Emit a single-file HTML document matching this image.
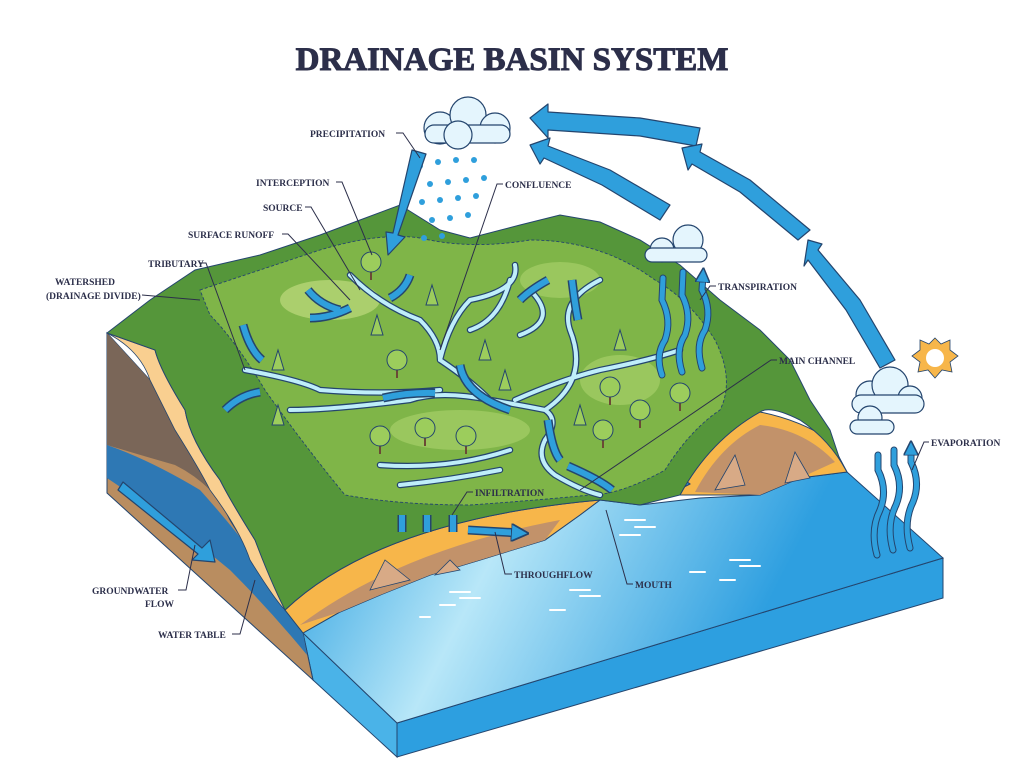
<!DOCTYPE html>
<html><head><meta charset="utf-8"><style>
html,body{margin:0;padding:0;background:#fff}
svg{display:block}
.l{font-family:"Liberation Serif",serif;font-weight:bold;font-size:9.5px;fill:#2c2f4a}
.ln{stroke:#2c2f4a;stroke-width:1;fill:none}
.ar{fill:#2f9fdc;stroke:#24456e;stroke-width:1.2;stroke-linejoin:round}
.rv{fill:none;stroke:#24456e;stroke-linecap:round;stroke-linejoin:round}
.rv2{fill:none;stroke:#bfeefa;stroke-linecap:round;stroke-linejoin:round}
</style></head><body>
<svg width="1024" height="779" viewBox="0 0 1024 779" xmlns="http://www.w3.org/2000/svg">
<defs>
<linearGradient id="wg" x1="0" y1="0" x2="1" y2="0.2"><stop offset="0" stop-color="#2a9fe0"/><stop offset="0.35" stop-color="#b8e7f8"/><stop offset="0.8" stop-color="#2e9fe0"/></linearGradient>
<marker id="ah" viewBox="0 0 10 10" refX="5" refY="5" markerWidth="3" markerHeight="3" orient="auto"><path d="M0,0 L10,5 L0,10z" fill="#2f9fdc" stroke="#24456e"/></marker>
</defs>
<text x="512" y="70" text-anchor="middle" style="font-family:'Liberation Serif',serif;font-weight:bold;font-size:33px;fill:#2c2f4a;stroke:#2c2f4a;stroke-width:1">DRAINAGE BASIN SYSTEM</text>

<!-- water block -->
<polygon points="303,633 397,723 397,757 313,680" fill="#4ab3e8" stroke="#24456e"/>
<polygon points="397,723 943,558 943,598 397,757" fill="#2d9fe0" stroke="#24456e"/>
<path d="M303,633 L397,723 L943,558 L847,472 L800,478 L760,495 L700,498 L640,505 L600,500 L580,515 L545,540 L480,560 L430,575 L380,595 L340,612 Z" fill="url(#wg)" stroke="#24456e"/>

<!-- left cliff -->
<path d="M107,333 L107,493 L313,680 L303,633 L285,610 L255,560 L230,520 L205,470 L175,420 L150,380 Z" fill="#b98d60" stroke="#24456e"/>
<path d="M107,333 L107,445 Q140,455 175,465 Q195,475 210,490 L205,470 L175,420 L150,380 Z" fill="#7a6658"/>
<path d="M107,445 Q150,460 200,490 Q245,540 275,585 Q292,610 303,633 L307,655 Q270,610 230,570 Q170,520 107,478 Z" fill="#2e78b4"/>
<path d="M107,333 Q140,350 150,380 Q170,420 175,430 Q200,470 210,490 Q240,530 250,560 Q275,600 285,610 L300,612 Q270,580 255,540 Q230,500 220,480 Q190,440 185,410 Q160,370 155,350 Z" fill="#f9cf90" stroke="#24456e" stroke-width="0.8"/>
<polygon points="123,482 202,548 210,540 215,562 192,560 198,554 118,490" class="ar"/>

<!-- front bank -->
<path d="M285,610 Q380,520 600,500 L580,515 L545,540 L480,560 L430,575 L380,595 L340,612 L303,633 Z" fill="#f7b64a" stroke="#24456e"/>
<path d="M300,625 Q400,550 560,520 L545,540 L480,560 L430,575 L380,595 L340,612 Z" fill="#c2926a"/>
<path d="M370,590 L385,560 L410,580 Z M435,575 L450,560 L460,570 Z" fill="#d8aa86" stroke="#24456e" stroke-width="0.8"/>

<!-- right hill bank -->
<path d="M680,495 Q710,440 760,412 Q800,420 830,440 L847,472 L800,478 L760,495 Z" fill="#f7b64a" stroke="#24456e"/>
<path d="M695,492 Q720,445 760,425 Q805,430 835,462 L800,478 L760,495 Z" fill="#c2926a"/>
<path d="M715,490 L735,455 L745,485 Z M785,483 L795,452 L810,478 Z" fill="#d8aa86" stroke="#24456e" stroke-width="0.8"/>
<polygon points="708,442 684,480 690,484 674,492 676,476 681,478 703,438" class="ar"/>

<!-- green land -->
<path d="M107,333 L150,300 L195,270 L260,255 L320,235 L360,220 L400,205 L440,230 L470,238 L520,225 L560,215 L600,222 L640,240 L680,265 L720,300 L760,330 L790,360 L810,400 L830,430 L840,460 L847,472 Q830,440 800,420 Q770,405 760,412 Q710,440 680,495 L640,505 L600,500 Q380,520 285,610 Q270,580 255,540 Q230,500 220,480 Q190,440 185,410 Q160,370 155,350 Z" fill="#55963a" stroke="#24456e"/>
<path d="M200,290 Q260,270 320,250 Q380,232 420,238 Q470,250 530,240 Q600,240 655,280 Q690,300 715,340 Q735,380 720,410 Q690,430 665,470 Q620,495 590,495 Q540,500 470,505 Q400,505 345,495 Q300,440 265,390 Q235,340 210,315 Z" fill="#7fb548" stroke="#24456e" stroke-dasharray="3,2" stroke-width="0.9"/>
<ellipse cx="330" cy="300" rx="50" ry="20" fill="#b6d677" opacity="0.8"/>
<ellipse cx="620" cy="380" rx="40" ry="25" fill="#9ac75e"/>
<ellipse cx="460" cy="430" rx="70" ry="20" fill="#9ac75e"/>
<ellipse cx="560" cy="280" rx="40" ry="18" fill="#9ac75e"/>

<!-- rivers -->
<path d="M350,275 Q380,305 420,320 Q440,340 440,360 Q470,380 490,400 Q520,405 545,410 Q560,420 545,440 Q535,460 555,475 Q580,490 600,495 M440,360 Q450,320 470,300 Q520,290 515,265 M490,400 Q440,390 410,400 Q330,410 290,410 M245,370 Q300,380 320,390 Q380,395 440,390 M515,400 Q560,380 600,370 Q650,360 680,350 M545,410 Q590,380 570,330 Q560,300 600,280 M520,335 Q560,320 530,290 M470,330 Q500,320 510,280 M380,465 Q450,470 510,450 M400,485 Q450,480 500,470" class="rv" stroke-width="6.5"/>
<path d="M350,275 Q380,305 420,320 Q440,340 440,360 Q470,380 490,400 Q520,405 545,410 Q560,420 545,440 Q535,460 555,475 Q580,490 600,495 M440,360 Q450,320 470,300 Q520,290 515,265 M490,400 Q440,390 410,400 Q330,410 290,410 M245,370 Q300,380 320,390 Q380,395 440,390 M515,400 Q560,380 600,370 Q650,360 680,350 M545,410 Q590,380 570,330 Q560,300 600,280 M520,335 Q560,320 530,290 M470,330 Q500,320 510,280 M380,465 Q450,470 510,450 M400,485 Q450,480 500,470" class="rv2" stroke-width="4"/>

<!-- trees -->
<g stroke="#24456e" stroke-width="1">
<g fill="none" stroke="#6b4a35" stroke-width="2"><path d="M371,265 V280 M397,363 V378 M380,439 V454 M425,431 V446 M466,439 V454 M610,390 V405 M640,413 V428 M680,396 V411 M603,433 V448"/></g>
<g fill="#9ccd5c">
<circle cx="371" cy="262" r="10"/><circle cx="397" cy="360" r="10"/><circle cx="380" cy="436" r="10"/><circle cx="425" cy="428" r="10"/><circle cx="466" cy="436" r="10"/><circle cx="610" cy="387" r="10"/><circle cx="640" cy="410" r="10"/><circle cx="680" cy="393" r="10"/><circle cx="603" cy="430" r="10"/>
<polygon points="278,350 272,370 284,370"/><polygon points="377,315 371,335 383,335"/><polygon points="432,285 426,305 438,305"/><polygon points="485,340 479,360 491,360"/><polygon points="505,370 499,390 511,390"/><polygon points="278,405 272,425 284,425"/><polygon points="580,405 574,425 586,425"/><polygon points="620,330 614,350 626,350"/>
</g>
</g>

<!-- flow arrows on land -->
<g fill="none" stroke-linecap="butt">
<g stroke="#24456e" stroke-width="9"><path d="M243,325 Q250,350 262,360 M308,290 Q320,305 340,310 M310,318 Q330,318 350,308 M390,298 Q405,290 410,275 M225,410 Q240,395 260,392 M383,398 Q410,392 435,393 M460,365 Q465,395 510,410 M548,280 Q530,290 520,300 M572,280 Q575,305 578,320 M548,420 Q552,450 560,460 M568,466 Q600,480 612,490 M402,515 L402,532 M427,515 L427,532 M453,515 L453,532 M468,530 L520,533"/></g>
<g stroke="#2f9fdc" stroke-width="6" marker-end="url(#ah)"><path d="M243,325 Q250,350 262,360 M308,290 Q320,305 340,310 M310,318 Q330,318 350,308 M390,298 Q405,290 410,275 M225,410 Q240,395 260,392 M383,398 Q410,392 435,393 M460,365 Q465,395 510,410 M548,280 Q530,290 520,300 M572,280 Q575,305 578,320 M548,420 Q552,450 560,460 M568,466 Q600,480 612,490 M402,515 L402,532 M427,515 L427,532 M453,515 L453,532 M468,530 L520,533"/></g>
</g>

<!-- precipitation cloud & rain -->
<g fill="#e4f5fd" stroke="#24456e" stroke-width="1.2">
<circle cx="440" cy="128" r="16"/><circle cx="468" cy="115" r="18"/><circle cx="495" cy="128" r="15"/><rect x="425" y="125" width="85" height="18" rx="9"/><circle cx="458" cy="135" r="14"/>
</g>
<g fill="#2f9fdc">
<circle cx="420" cy="166" r="3"/><circle cx="438" cy="162" r="3"/><circle cx="456" cy="160" r="3"/><circle cx="474" cy="160" r="3"/><circle cx="430" cy="184" r="3"/><circle cx="448" cy="182" r="3"/><circle cx="466" cy="180" r="3"/><circle cx="484" cy="178" r="3"/><circle cx="422" cy="202" r="3"/><circle cx="440" cy="200" r="3"/><circle cx="458" cy="198" r="3"/><circle cx="476" cy="196" r="3"/><circle cx="432" cy="220" r="3"/><circle cx="450" cy="218" r="3"/><circle cx="468" cy="215" r="3"/><circle cx="424" cy="238" r="3"/><circle cx="442" cy="236" r="3"/>
</g>
<polygon points="412,150 426,154 398,235 405,237 388,255 386,232 393,233" class="ar"/>

<!-- cycle arrows -->
<polygon points="530,118 548,104 548,112 640,118 700,128 696,146 640,136 548,130 548,138" class="ar"/>
<polygon points="530,145 550,138 548,146 610,170 670,205 660,220 602,185 544,158 540,164" class="ar"/>
<polygon points="682,148 702,144 700,152 750,180 810,230 798,240 740,192 692,164 688,170" class="ar"/>
<polygon points="808,240 822,244 818,250 860,300 895,360 880,368 846,310 808,260 804,266" class="ar"/>

<!-- transpiration -->
<g fill="#e4f5fd" stroke="#24456e" stroke-width="1.2">
<circle cx="662" cy="250" r="12"/><circle cx="688" cy="240" r="15"/><rect x="645" y="248" width="62" height="14" rx="7"/>
</g>
<g fill="none" stroke-linecap="round">
<path d="M662,375 Q655,355 665,340 Q672,320 662,300 L663,278 M682,372 Q675,350 685,335 Q692,315 682,295 L683,272 M702,368 Q695,345 705,330 Q712,310 702,290 L703,275" stroke="#24456e" stroke-width="7"/>
<path d="M662,375 Q655,355 665,340 Q672,320 662,300 L663,278 M682,372 Q675,350 685,335 Q692,315 682,295 L683,272 M702,368 Q695,345 705,330 Q712,310 702,290 L703,275" stroke="#2f9fdc" stroke-width="5" marker-end="url(#ah)"/>
</g>

<!-- sun & evaporation -->
<polygon points="935,338 941,344 950,340 950,350 958,356 950,362 952,372 942,370 935,378 928,370 918,372 920,362 912,356 920,350 920,340 929,344" fill="#f7b64a" stroke="#24456e" stroke-width="0.8"/>
<circle cx="935" cy="358" r="9" fill="#fff"/>
<g fill="#e4f5fd" stroke="#24456e" stroke-width="1.2">
<circle cx="870" cy="395" r="14"/><circle cx="890" cy="385" r="18"/><circle cx="910" cy="398" r="12"/><rect x="852" y="395" width="72" height="18" rx="9"/>
<circle cx="870" cy="418" r="12"/><rect x="850" y="420" width="44" height="14" rx="7"/>
</g>
<g fill="none" stroke-linecap="round">
<path d="M877,555 Q870,530 880,510 Q888,490 878,470 L878,455 M893,550 Q886,525 896,505 Q904,485 894,465 L894,450 M910,548 Q903,522 913,502 Q921,482 911,462 L911,448" stroke="#24456e" stroke-width="7"/>
<path d="M877,555 Q870,530 880,510 Q888,490 878,470 L878,455 M893,550 Q886,525 896,505 Q904,485 894,465 L894,450 M910,548 Q903,522 913,502 Q921,482 911,462 L911,448" stroke="#2f9fdc" stroke-width="5" marker-end="url(#ah)"/>
</g>

<!-- water sparkles -->
<g stroke="#fff" stroke-width="2" stroke-linecap="round">
<path d="M450,592 L470,592 M460,598 L480,598 M440,605 L455,605 M420,617 L430,617 M625,520 L645,520 M635,527 L655,527 M620,535 L640,535 M570,590 L590,590 M580,596 L600,596 M730,560 L750,560 M740,566 L760,566 M720,580 L735,580 M550,610 L565,610 M690,572 L705,572"/>
</g>

<!-- labels -->
<g class="l">
<text x="310" y="137">PRECIPITATION</text>
<text x="256" y="186">INTERCEPTION</text>
<text x="505" y="188">CONFLUENCE</text>
<text x="263" y="211">SOURCE</text>
<text x="188" y="238">SURFACE RUNOFF</text>
<text x="148" y="267">TRIBUTARY</text>
<text x="55" y="285">WATERSHED</text>
<text x="46" y="299">(DRAINAGE DIVIDE)</text>
<text x="718" y="290">TRANSPIRATION</text>
<text x="779" y="364">MAIN CHANNEL</text>
<text x="931" y="446">EVAPORATION</text>
<text x="475" y="496">INFILTRATION</text>
<text x="514" y="578">THROUGHFLOW</text>
<text x="635" y="588">MOUTH</text>
<text x="92" y="594">GROUNDWATER</text>
<text x="145" y="607">FLOW</text>
<text x="158" y="638">WATER TABLE</text>
</g>
<g class="ln">
<path d="M396,133 L403,133 L420,158"/>
<path d="M336,182 L342,182 L372,255"/>
<path d="M503,184 L497,184 L440,350"/>
<path d="M305,207 L311,207 L360,290"/>
<path d="M282,234 L288,234 L350,300"/>
<path d="M200,263 L206,263 L245,370"/>
<path d="M142,295 L200,300"/>
<path d="M716,286 L710,286 L700,300"/>
<path d="M777,360 L771,360 L580,490"/>
<path d="M929,442 L924,442 L912,470"/>
<path d="M473,492 L467,492 L452,515"/>
<path d="M512,574 L505,574 L495,532"/>
<path d="M633,584 L627,584 L606,510"/>
<path d="M178,590 L186,590 L195,545"/>
<path d="M232,634 L240,634 L255,580"/>
</g>
</svg>
</body></html>
